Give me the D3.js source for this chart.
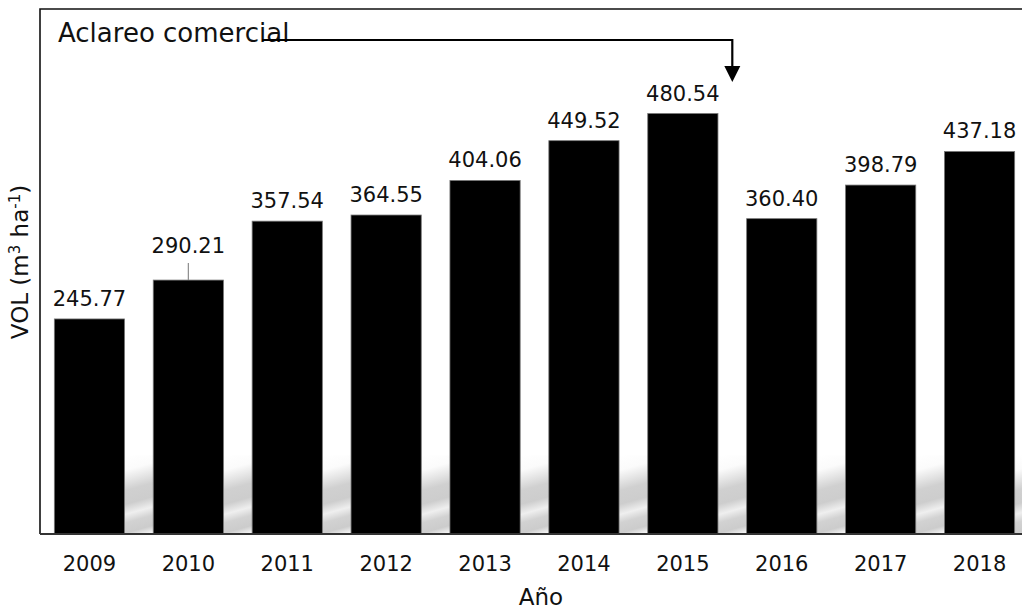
<!DOCTYPE html>
<html>
<head>
<meta charset="utf-8">
<script src="https://cdn.jsdelivr.net/npm/d3@7"></script>
<style>
    body { margin: 0; background: #fff; }
    svg { display: block; font-family: 'DejaVu Sans', Verdana, sans-serif; }
</style>
</head>
<body>
<svg id="chart"></svg>
<script>
// data
const years = ['2009', '2010', '2011', '2012', '2013', '2014', '2015', '2016', '2017', '2018'];
const volumes = [245.77, 290.21, 357.54, 364.55, 404.06, 449.52, 480.54, 360.40, 398.79, 437.18];
const yDomain = [0, 600];
const leaderYears = ['2010'];

const W = 1022;
const H = 614;
const margin = { top: 9, left: 40, bottom: 80 };
const plotRight = 1029; // plot runs past the window edge
const plotBottom = H - margin.bottom;

const data = years.map((y, i) => ({ year: y, vol: volumes[i] }));

const svg = d3.select('#chart').attr('width', W).attr('height', H);

const x = d3.scaleBand()
    .domain(years)
    .range([margin.left, plotRight])
    .paddingInner(0.29)
    .paddingOuter(0.145);

const y = d3.scaleLinear().domain(yDomain).range([plotBottom, margin.top]);

// soft reflection behind the bars, one gradient per gap
const shineTop = y(90);
const gap = x.step() - x.bandwidth();
const gapX = (d) => x(d.year) + x.bandwidth();
const shineStops = [
    ['0%', '#ffffff'],
    ['18%', '#fbfbfb'],
    ['42%', '#d0d0d0'],
    ['58%', '#cdcdcd'],
    ['70%', '#efefef'],
    ['80%', '#d2d2d2'],
    ['92%', '#cccccc'],
    ['100%', '#f2f2f2']
];

const defs = svg.append('defs');
defs.selectAll('linearGradient')
    .data(data)
    .enter()
    .append('linearGradient')
    .attr('id', (d, i) => `shine-${i}`)
    .attr('gradientUnits', 'userSpaceOnUse')
    .attr('x1', (d) => gapX(d)).attr('y1', shineTop)
    .attr('x2', (d) => gapX(d) + 22).attr('y2', plotBottom)
    .selectAll('stop')
    .data(shineStops)
    .enter()
    .append('stop')
    .attr('offset', (s) => s[0])
    .attr('stop-color', (s) => s[1]);

svg.append('g')
    .selectAll('rect')
    .data(data)
    .enter()
    .append('rect')
    .attr('x', gapX)
    .attr('y', shineTop)
    .attr('width', gap)
    .attr('height', plotBottom - shineTop)
    .attr('fill', (d, i) => `url(#shine-${i})`);

// bars
svg.append('g')
    .selectAll('rect')
    .data(data)
    .enter()
    .append('rect')
    .attr('x', (d) => x(d.year))
    .attr('y', (d) => y(d.vol))
    .attr('width', x.bandwidth())
    .attr('height', (d) => plotBottom - y(d.vol))
    .attr('fill', '#000')
    .attr('stroke', '#777')
    .attr('stroke-width', 0.8);

// frame
svg.append('path')
    .attr('d', `M${plotRight},${margin.top}H${margin.left}V${plotBottom}`)
    .attr('fill', 'none')
    .attr('stroke', '#111')
    .attr('stroke-width', 1.6);

svg.append('line')
    .attr('x1', margin.left).attr('x2', plotRight)
    .attr('y1', plotBottom).attr('y2', plotBottom)
    .attr('stroke', '#333')
    .attr('stroke-width', 2);

// value labels
const lift = (d) => (leaderYears.includes(d.year) ? 27 : 13);

svg.append('g')
    .selectAll('line')
    .data(data.filter((d) => leaderYears.includes(d.year)))
    .enter()
    .append('line')
    .attr('x1', (d) => x(d.year) + x.bandwidth() / 2)
    .attr('x2', (d) => x(d.year) + x.bandwidth() / 2)
    .attr('y1', (d) => y(d.vol) - 17)
    .attr('y2', (d) => y(d.vol))
    .attr('stroke', '#8c8c8c')
    .attr('stroke-width', 1.2);

svg.append('g')
    .selectAll('text')
    .data(data)
    .enter()
    .append('text')
    .attr('x', (d) => x(d.year) + x.bandwidth() / 2)
    .attr('y', (d) => y(d.vol) - lift(d))
    .attr('text-anchor', 'middle')
    .attr('font-size', 21)
    .attr('fill', '#111')
    .text((d) => d.vol.toFixed(2));

// x axis labels (no ticks)
const axisX = d3.axisBottom(x).tickSize(0).tickPadding(22);
const gx = svg.append('g')
    .attr('transform', `translate(0,${plotBottom})`)
    .call(axisX);
gx.select('.domain').remove();
gx.selectAll('text')
    .attr('font-size', 21)
    .attr('font-family', "'DejaVu Sans', Verdana, sans-serif")
    .attr('fill', '#111');

// axis titles
svg.append('text')
    .attr('x', 541)
    .attr('y', 605)
    .attr('text-anchor', 'middle')
    .attr('font-size', 23)
    .attr('fill', '#111')
    .text('Año');

const yt = svg.append('text')
    .attr('transform', `translate(28,${262}) rotate(-90)`)
    .attr('text-anchor', 'middle')
    .attr('font-size', 23)
    .attr('fill', '#111');
yt.append('tspan').text('VOL (m');
yt.append('tspan').attr('font-size', 15).attr('dy', -8).text('3');
yt.append('tspan').attr('dy', 8).text(' ha');
yt.append('tspan').attr('font-size', 15).attr('dy', -8).text('-1');
yt.append('tspan').attr('dy', 8).text(')');

// annotation
svg.append('text')
    .attr('x', 58)
    .attr('y', 42)
    .attr('font-size', 26)
    .attr('fill', '#111')
    .text('Aclareo comercial');

const arrowX = x('2015') + x.bandwidth() + gap / 2;
svg.append('path')
    .attr('d', `M262,40H${arrowX}V68`)
    .attr('fill', 'none')
    .attr('stroke', '#000')
    .attr('stroke-width', 2.2);

svg.append('path')
    .attr('d', `M${arrowX - 8},66L${arrowX + 8},66L${arrowX},82Z`)
    .attr('fill', '#000');
</script>
</body>
</html>
